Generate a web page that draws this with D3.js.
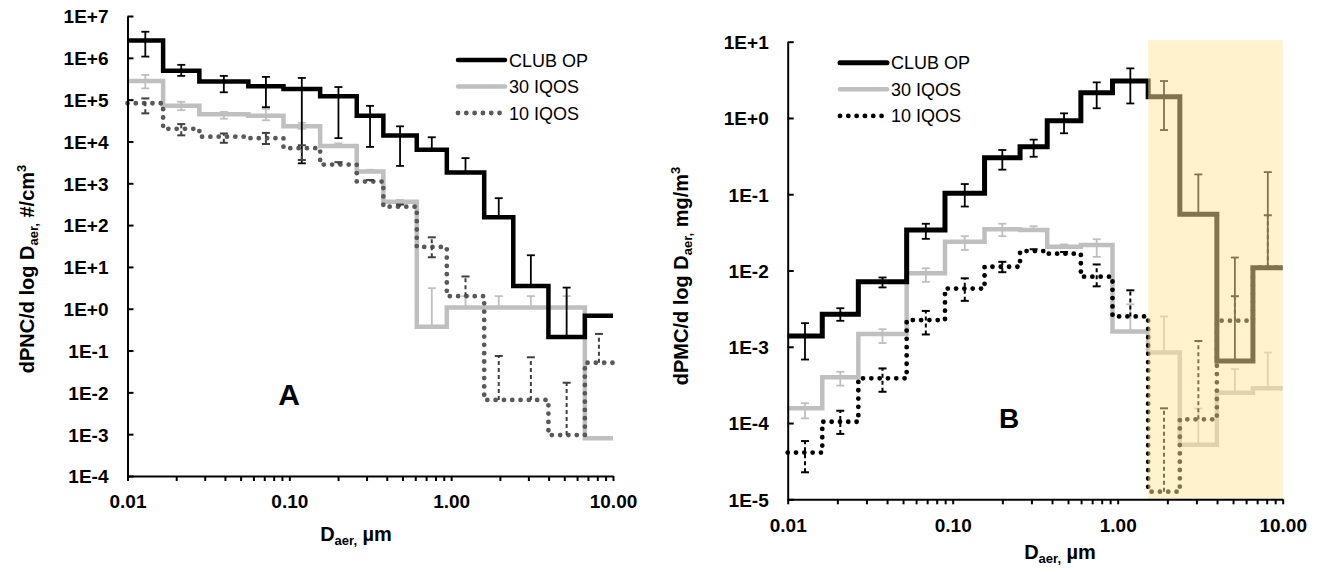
<!DOCTYPE html>
<html>
<head>
<meta charset="utf-8">
<script src="https://cdn.jsdelivr.net/npm/d3@7"></script>
<style>
  body { margin: 0; background: #fff; }
  svg { display: block; }
  text { font-family: "Liberation Sans", Arial, sans-serif; }
</style>
</head>
<body>
<svg id="chart" width="1328" height="572"></svg>
<script>
// ELPI stage edges (um)
const edgesA = [0.01, 0.0166, 0.0278, 0.0558, 0.092, 0.155, 0.261, 0.381, 0.613, 0.94, 1.60, 2.42, 3.99, 6.7, 10]
const edgesB = [0.01, 0.0162, 0.0268, 0.0526, 0.0898, 0.156, 0.256, 0.374, 0.598, 0.93, 1.53, 2.38, 3.99, 6.6, 10]

const seriesNames = ['CLUB OP', '30 IQOS', '10 IQOS']
const xTickLabels = ['0.01', '0.10', '1.00', '10.00']
const yTicksA = ['1E+7', '1E+6', '1E+5', '1E+4', '1E+3', '1E+2', '1E+1', '1E+0', '1E-1', '1E-2', '1E-3', '1E-4']
const yTicksB = ['1E+1', '1E+0', '1E-1', '1E-2', '1E-3', '1E-4', '1E-5']

// panel A: number concentration, #/cm3
const clubA = [2.6e6, 4.9e5, 2.7e5, 2.1e5, 1.8e5, 1.2e5, 4.1e4, 1.38e4, 6.3e3, 1.8e3, 155, 3.5, 0.21, 0.68]
const clubAHi = [4.2e6, 6.8e5, 3.7e5, 3.5e5, 3.3e5, 2.0e5, 7.1e4, 2.3e4, 1.26e4, 4.0e3, 440, 19, 3.2, null]
const clubALo = [1.07e6, 3.7e5, 1.5e5, 6.6e4, 3.0e3, 1.2e4, 7.4e3, 2.6e3, null, null, null, null, null, null]

const iqos30A = [2.8e5, 7.1e4, 4.5e4, 4.1e4, 2.3e4, 7.8e3, 1.9e3, 360, 0.37, 1.07, 1.07, 1.07, 1.07, 8e-4]
const iqos30AHi = [3.9e5, 8.9e4, 5.1e4, 6.0e4, 2.8e4, 9.0e3, 2.1e3, 400, 3.1, 2.0, 2.0, 2.0, 2.0, null]
const iqos30ALo = [1.86e5, 5.6e4, 3.5e4, 3.2e4, 2.0e4, null, null, null, null, null, null, null, null, null]

const iqos10A = [8.2e4, 2.0e4, 1.3e4, 1.2e4, 6.9e3, 2.8e3, 1.1e3, 275, 30, 2.0, 0.0066, 0.0066, 9.5e-4, 0.051]
const iqos10AHi = [1.07e5, 2.6e4, 1.55e4, 1.6e4, 8.1e3, 3.2e3, 1.2e3, 310, 51, 5.9, 0.074, 0.069, 0.017, 0.25]
const iqos10ALo = [4.7e4, 1.4e4, 9.3e3, 8.7e3, 3.6e3, null, null, null, 17, null, null, null, null, null]

// panel B: mass concentration, mg/m3
const clubB = [1.38e-3, 2.67e-3, 7.1e-3, 0.034, 0.103, 0.30, 0.42, 0.92, 2.14, 3.05, 1.9, 0.0546, 6.5e-4, 0.0109]
const clubBHi = [2.04e-3, 3.2e-3, 8.1e-3, 0.041, 0.136, 0.38, 0.52, 1.15, 2.93, 4.47, 3.05, 0.182, 0.0148, 0.195]
const clubBLo = [6.8e-4, 2.19e-3, 6.0e-3, 0.026, 0.069, 0.21, 0.31, 0.63, 1.34, 1.55, 0.695, null, null, null]

const iqos30B = [1.56e-4, 3.98e-4, 1.47e-3, 9.2e-3, 0.0239, 0.0347, 0.034, 0.0205, 0.0216, 1.58e-3, 8.4e-4, 5.2e-5, 2.5e-4, 2.85e-4]
const iqos30BHi = [1.82e-4, 4.7e-4, 1.7e-3, 0.0107, 0.0282, 0.041, 0.038, 0.022, 0.0257, 3.6e-3, 2.5e-3, 1.55e-4, 5.1e-4, 8.4e-4]
const iqos30BLo = [1.15e-4, 3.1e-4, 1.12e-3, 7.1e-3, 0.0186, 0.0282, null, null, 0.0151, null, null, null, null, null]

const iqos10B = [4.1e-5, 1.04e-4, 3.86e-4, 2.24e-3, 5.8e-3, 0.0112, 0.018, 0.0166, 8.3e-3, 2.5e-3, 1.26e-5, 1.12e-4, 2.2e-3, 0.011]
const iqos10BHi = [5.8e-5, 1.45e-4, 5.2e-4, 2.95e-3, 7.9e-3, 0.013, 0.019, 0.0175, 0.012, 5.5e-3, 1.56e-4, 1.19e-3, 4.6e-3, 0.053]
const iqos10BLo = [2.26e-5, 7.2e-5, 2.57e-4, 1.45e-3, 4.0e-3, 9.5e-3, null, null, 6.2e-3, null, null, null, null, null]

const svg = d3.select('#chart')

function drawPanel(p) {
  const x = d3.scaleLog().domain([0.01, 10]).range(p.xRange)
  const y = d3.scaleLog().domain(p.yDomain).range(p.yRange)
  const g = svg.append('g')

  // series, drawn gray first, then black, then dotted on top
  p.series.forEach(s => {
    const pts = s.vals.map((v, i) => [p.edges[i], v])
    pts.push([p.edges[p.edges.length - 1], s.vals[s.vals.length - 1]])
    const line = d3.line().x(d => x(d[0])).y(d => y(d[1])).curve(d3.curveStepAfter)

    g.append('path')
      .attr('d', line(pts))
      .attr('fill', 'none')
      .attr('stroke', s.color)
      .attr('stroke-width', s.width)
      .attr('stroke-linecap', s.dotted ? 'round' : 'butt')
      .attr('stroke-linejoin', 'miter')
      .attr('stroke-dasharray', s.dotted ? '0.01 8.3' : null)

    // error bars at the geometric centre of each stage
    s.vals.forEach((v, i) => {
      if (s.hi[i] == null) return
      const cx = x(Math.sqrt(p.edges[i] * p.edges[i + 1]))
      const lo = s.lo[i] == null ? v : s.lo[i]
      const eg = g.append('g').attr('stroke', s.errColor).attr('stroke-width', s.dotted ? 2 : 1.8)
      eg.append('line')
        .attr('x1', cx).attr('x2', cx)
        .attr('y1', y(lo)).attr('y2', y(s.hi[i]))
        .attr('stroke-dasharray', s.dotted ? '4 3' : null)
      eg.append('line')
        .attr('x1', cx - 4).attr('x2', cx + 4)
        .attr('y1', y(s.hi[i])).attr('y2', y(s.hi[i]))
      if (s.lo[i] != null) {
        eg.append('line')
          .attr('x1', cx - 4).attr('x2', cx + 4)
          .attr('y1', y(lo)).attr('y2', y(lo))
      }
    })
  })

  if (p.shadeFrom) {
    g.append('rect')
      .attr('x', x(p.shadeFrom))
      .attr('y', y(p.yDomain[1]) - 1.5)
      .attr('width', x(10) - x(p.shadeFrom))
      .attr('height', y(p.yDomain[0]) - y(p.yDomain[1]) + 1.5)
      .attr('fill', '#FFE699')
      .attr('opacity', 0.5)
  }

  // axes
  const majors = [0.01, 0.1, 1, 10]
  const xTicks = []
  for (let d = 0; d < 3; d++) for (let k = 1; k < 10; k++) xTicks.push(majors[d] * k)
  xTicks.push(10)
  const xAxis = d3.axisBottom(x)
    .tickValues(xTicks)
    .tickSize(5)
    .tickSizeOuter(0)
    .tickPadding(14)
    .tickFormat(d => {
      const j = majors.findIndex(m => Math.abs(m - d) < 1e-9)
      return j >= 0 ? xTickLabels[j] : ''
    })
  const gx = g.append('g').attr('transform', `translate(0,${p.yRange[0]})`).call(xAxis)

  const yVals = p.yLabels.map(t => +t.replace('E', 'e'))
  const yAxis = d3.axisLeft(y)
    .tickValues(yVals)
    .tickSize(-6)
    .tickSizeOuter(0)
    .tickPadding(19)
    .tickFormat((d, i) => p.yLabels[i])
  const gy = g.append('g').attr('transform', `translate(${p.xRange[0]},0)`).call(yAxis)

  ;[gx, gy].forEach(a => {
    a.attr('font-family', '"Liberation Sans", Arial, sans-serif')
      .attr('font-size', 19)
      .attr('font-weight', 'bold')
    a.selectAll('path, line').attr('stroke', '#000').attr('stroke-width', 2)
    a.selectAll('text').attr('fill', '#000')
  })
  gy.selectAll('text').attr('dy', '0.36em')

  // axis titles
  const xt = g.append('text')
    .attr('x', p.xTitle[0]).attr('y', p.xTitle[1])
    .attr('text-anchor', 'middle')
    .attr('font-size', 20).attr('font-weight', 'bold')
  xt.append('tspan').text('D')
  xt.append('tspan').attr('font-size', 13).attr('dy', 4).text('aer,')
  xt.append('tspan').attr('dy', -4).text(' µm')

  const yt = g.append('text')
    .attr('transform', `translate(${p.yTitle[0]},${p.yTitle[1]}) rotate(-90)`)
    .attr('text-anchor', 'middle')
    .attr('font-size', 20).attr('font-weight', 'bold')
  yt.append('tspan').text(p.yTitleText[0] + ' D')
  yt.append('tspan').attr('font-size', 13).attr('dy', 4).text('aer,')
  yt.append('tspan').attr('dy', -4).text(' ' + p.yTitleText[1])
  yt.append('tspan').attr('font-size', 13).attr('dy', -8).text('3')

  // panel letter
  g.append('text')
    .attr('x', p.letter[0]).attr('y', p.letter[1])
    .attr('text-anchor', 'middle')
    .attr('font-size', p.letter[3]).attr('font-weight', 'bold')
    .text(p.letter[2])

  // legend
  const lg = g.append('g')
  p.series.slice().sort((a, b) => a.order - b.order).forEach((s, i) => {
    const ly = p.legend[1] + i * p.legend[2]
    lg.append('line')
      .attr('x1', p.legend[0]).attr('x2', p.legend[0] + 47)
      .attr('y1', ly).attr('y2', ly)
      .attr('stroke', s.color)
      .attr('stroke-width', s.width)
      .attr('stroke-linecap', 'round')
      .attr('stroke-dasharray', s.dotted ? '0.01 8.3' : null)
    lg.append('text')
      .attr('x', p.legend[0] + 51).attr('y', ly + 6.5)
      .attr('font-size', 18)
      .text(seriesNames[s.order])
  })
}

drawPanel({
  edges: edgesA,
  xRange: [127.5, 613],
  yDomain: [1e-4, 1e7],
  yRange: [476, 16],
  yLabels: yTicksA,
  xTitle: [356, 541],
  yTitle: [34, 269],
  yTitleText: ['dPNC/d log', '#/cm'],
  letter: [289, 405, 'A', 30],
  legend: [458, 60, 26.5],
  series: [
    { order: 1, vals: iqos30A, hi: iqos30AHi, lo: iqos30ALo, color: '#BFBFBF', errColor: '#BFBFBF', width: 4.5 },
    { order: 0, vals: clubA, hi: clubAHi, lo: clubALo, color: '#000', errColor: '#000', width: 4.5 },
    { order: 2, vals: iqos10A, hi: iqos10AHi, lo: iqos10ALo, color: '#595959', errColor: '#404040', width: 4.8, dotted: true }
  ]
})

drawPanel({
  edges: edgesB,
  xRange: [787.7, 1282.7],
  yDomain: [1e-5, 10],
  yRange: [499.3, 41.7],
  yLabels: yTicksB,
  xTitle: [1060, 559],
  yTitle: [688, 276],
  yTitleText: ['dPMC/d log', 'mg/m'],
  letter: [1009, 428, 'B', 28],
  legend: [840, 62.7, 26.6],
  shadeFrom: edgesB[10],
  series: [
    { order: 1, vals: iqos30B, hi: iqos30BHi, lo: iqos30BLo, color: '#BFBFBF', errColor: '#BFBFBF', width: 4.5 },
    { order: 0, vals: clubB, hi: clubBHi, lo: clubBLo, color: '#000', errColor: '#000', width: 5 },
    { order: 2, vals: iqos10B, hi: iqos10BHi, lo: iqos10BLo, color: '#000', errColor: '#000', width: 4.8, dotted: true }
  ]
})
</script>
</body>
</html>
